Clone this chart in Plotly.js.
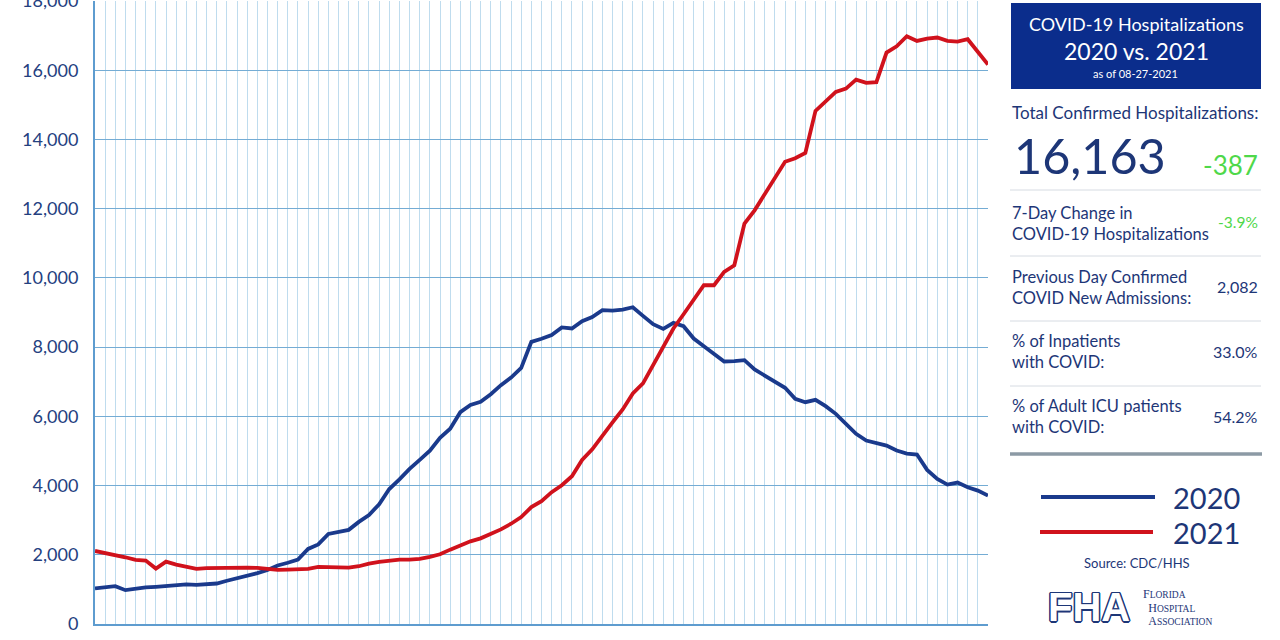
<!DOCTYPE html>
<html>
<head>
<meta charset="utf-8">
<script src="https://cdn.plot.ly/plotly-3.0.1.min.js"></script>
<style>html,body{margin:0;padding:0;background:#fff;}#chart{width:1280px;height:640px;}</style>
</head>
<body>
<div id="chart"></div>
<script>
// ---- Data ----
const hosp2020 = [1027,1056,1094,978,1027,1056,1075,1094,1113,1142,1133,1152,1170,1250,1320,1380,1470,1560,1690,1770,
  1860,2170,2300,2600,2650,2720,2950,3150,3460,3900,4180,4480,4740,5010,5380,5640,6120,6330,6420,6640,
  6900,7120,7400,8150,8240,8350,8570,8540,8750,8870,9066,9056,9085,9153,8903,8662,8527,8700,8604,8248,
  8027,7815,7584,7594,7623,7354,7180,6990,6824,6506,6409,6477,6294,6072,5783,5494,5301,5233,5156,5012,
  4925,4896,4452,4192,4028,4086,3951,3855,3710];
const hosp2021 = [2110,2052,2005,1928,1851,1832,1602,1803,1717,1660,1593,1612,1620,1630,1640,1630,1620,1593,1564,1573,
  1593,1593,1650,1640,1640,1631,1669,1746,1794,1832,1861,1861,1880,1938,2015,2149,2274,2389,2475,2590,
  2734,2897,3089,3377,3550,3809,4010,4270,4740,5045,5449,5824,6199,6661,6950,7479,8008,8537,8950,9374,
  9787,9787,10172,10365,11567,11952,12414,12850,13355,13458,13612,14825,15104,15374,15470,15730,15634,15653,16510,16693,
  16982,16847,16915,16944,16847,16828,16896,16530,16163];
const seriesNames = ["2020", "2021"];
const yTicks = [0,2000,4000,6000,8000,10000,12000,14000,16000,18000];
const dayIndex = hosp2020.map((_, i) => i);

const panelTitle = ["COVID-19 Hospitalizations", "2020 vs. 2021", "as of 08-27-2021"];
const totalLabel = "Total Confirmed Hospitalizations:";
const totalValue = "16,163";
const totalChange = "-387";
const statLabels = ["7-Day Change in<br>COVID-19 Hospitalizations",
                    "Previous Day Confirmed<br>COVID New Admissions:",
                    "% of Inpatients<br>with COVID:",
                    "% of Adult ICU patients<br>with COVID:"];
const statValues = ["-3.9%", "2,082", "33.0%", "54.2%"];
const sourceText = "Source: CDC/HHS";
const logoMark = "FHA";
const logoName = ["<span style='font-size:12px'>F</span><span style='font-size:9.5px'>LORIDA</span>",
                  "\u2002<span style='font-size:12px'>H</span><span style='font-size:9.5px'>OSPITAL</span>",
                  "\u2002<span style='font-size:12px'>A</span><span style='font-size:9.5px'>SSOCIATION</span>"];

// ---- Styling ----
const NAVY = "#1a3a8c", RED = "#d0121c", TXT = "#1d3677", GREEN = "#4fd84a";
const L = 95, R = 988, T = 1, B = 624;
const px = x => (x - L) / (R - L);
const py = y => (B - y) / (B - T);

const traces = [
  {x: dayIndex, y: hosp2020, name: seriesNames[0], type: "scatter", mode: "lines",
   line: {color: NAVY, width: 3.8}, hoverinfo: "y"},
  {x: dayIndex, y: hosp2021, name: seriesNames[1], type: "scatter", mode: "lines",
   line: {color: RED, width: 3.8}, hoverinfo: "y"}
];

const ann = [];
const shapes = [];
function text(t, x, y, size, opts) {
  ann.push(Object.assign({text: t, x: px(x), y: py(y), xref: "paper", yref: "paper",
    showarrow: false, xanchor: "left", yanchor: "middle", align: "left",
    font: {family: "Lato, sans-serif", size: size, color: TXT}}, opts || {}));
}
function hline(x0, x1, y, color, w) {
  shapes.push({type: "line", xref: "paper", yref: "paper", x0: px(x0), x1: px(x1), y0: py(y), y1: py(y),
    line: {color: color, width: w}});
}

// header box
shapes.push({type: "rect", xref: "paper", yref: "paper", x0: px(1011), x1: px(1261), y0: py(3), y1: py(89),
  fillcolor: "#0b2d8c", line: {width: 0}});
text(panelTitle[0], 1136, 24, 18, {xanchor: "center", font: {family: "Lato, sans-serif", size: 18, color: "#fff"}});
text(panelTitle[1], 1136, 51, 23, {xanchor: "center", font: {family: "Lato, sans-serif", size: 23, color: "#fff"}});
text(panelTitle[2], 1135, 73, 11, {xanchor: "center", font: {family: "Lato, sans-serif", size: 11, color: "#fff"}});

text(totalLabel, 1010, 112, 17);
text(totalValue, 1012, 155, 48.5);
text(totalChange, 1260, 165, 26, {xanchor: "right", font: {family: "Lato, sans-serif", size: 26, color: GREEN}});
hline(1010, 1261, 190, "#d6dbe2", 1);

const rowY = [223, 287, 352, 417];
const sepY = [256, 321, 386];
statLabels.forEach((s, k) => {
  text(s, 1010, rowY[k], 16.5);
  const green = k === 0;
  text(statValues[k], 1260, rowY[k] - 1, 16,
    {xanchor: "right", font: {family: "Lato, sans-serif", size: green ? 15.5 : 16, color: green ? GREEN : TXT}});
});
sepY.forEach(y => hline(1010, 1261, y, "#d6dbe2", 1));
hline(1010, 1262, 454, "#8c9aa5", 3.5);

// legend
hline(1041, 1155, 497, NAVY, 3.8);
hline(1040, 1153, 532, RED, 3.8);
text(seriesNames[0], 1171, 497, 29);
text(seriesNames[1], 1171, 532, 29);
text(sourceText, 1137, 563, 13, {xanchor: "center"});

// FHA logo (outlined letters via text shadow)
text(logoMark, 1047, 607, 40, {borderpad: 0, font: {family: "Liberation Sans, sans-serif", size: 40, color: "#ffffff", weight: 700,
  shadow: "1.5px 0 0 #1d3677, -1.5px 0 0 #1d3677, 0 1.5px 0 #1d3677, 0 -1.5px 0 #1d3677, 1px 1px 0 #1d3677, -1px -1px 0 #1d3677, 1px -1px 0 #1d3677, -1px 1px 0 #1d3677"}});
text(logoName.join("<br>"), 1142, 607, 10.5, {borderpad: 0, font: {family: "Liberation Serif, serif", size: 10.5, color: TXT}});

const layout = {
  width: 1280, height: 640,
  margin: {l: L, r: 1280 - R, t: T, b: 640 - B, pad: 0},
  paper_bgcolor: "#fff", plot_bgcolor: "#fff",
  showlegend: false,
  xaxis: {range: [0, dayIndex.length - 1], dtick: 1, tick0: 0, showticklabels: false,
    showgrid: true, gridcolor: "#bfdcee", gridwidth: 1, zeroline: false,
    showline: true, linecolor: "#5e9ccf", linewidth: 2, mirror: false, fixedrange: true},
  yaxis: {range: [0, 18000], tickvals: yTicks, tickformat: ",d",
    showgrid: true, gridcolor: "#74acd4", gridwidth: 1, zeroline: false,
    showline: true, linecolor: "#5e9ccf", linewidth: 2,
    ticks: "outside", ticklen: 11, tickcolor: "rgba(0,0,0,0)", ticklabeloverflow: "allow",
    tickfont: {family: "Lato, sans-serif", size: 18, color: "#24407f"}, fixedrange: true},
  annotations: ann,
  shapes: shapes
};

Plotly.newPlot("chart", traces, layout, {displayModeBar: false, staticPlot: true});
</script>
</body>
</html>
